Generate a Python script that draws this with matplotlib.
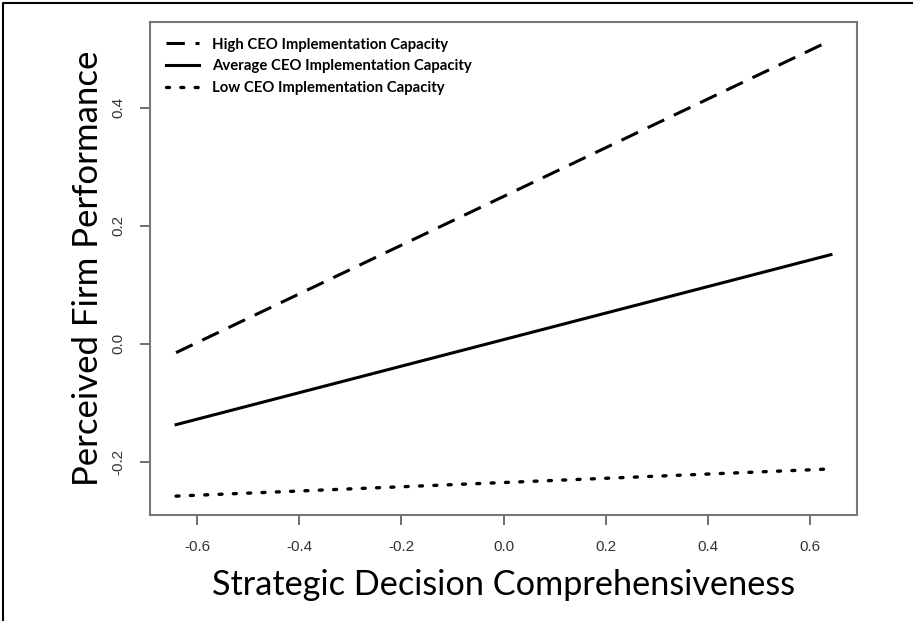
import matplotlib
matplotlib.use("Agg")
import matplotlib.pyplot as plt
from matplotlib.lines import Line2D

# simple slopes: comprehensiveness vs performance at three capacity levels
x_ends = [-0.641, 0.641]
high_cap = [-0.015, 0.514]
avg_cap = [-0.137, 0.151]
low_cap = [-0.258, -0.212]
labels = ["High CEO Implementation Capacity",
          "Average CEO Implementation Capacity",
          "Low CEO Implementation Capacity"]
xticks = [-0.6, -0.4, -0.2, 0.0, 0.2, 0.4, 0.6]
yticks = [-0.2, 0.0, 0.2, 0.4]

W, H = 913, 621
fig = plt.figure(figsize=(W / 100, H / 100), dpi=100)
ax = fig.add_axes([150 / W, (H - 515) / H, 707 / W, 493 / H])

ax.plot(x_ends, high_cap, color="black", lw=2.2, linestyle=(0, (6, 3.5)), label=labels[0])
ax.plot(x_ends, avg_cap, color="black", lw=2.2, linestyle="-", label=labels[1])
ax.plot(x_ends, low_cap, color="black", lw=2.4, linestyle=(0, (0.9, 3.4)),
        dash_capstyle="round", label=labels[2])

ax.set_xlim(-0.692, 0.692)
ax.set_ylim(-0.29, 0.545)
ax.set_xticks(xticks)
ax.set_yticks(yticks)
ax.set_xticklabels(["-0.6", "-0.4", "-0.2", "0.0", "0.2", "0.4", "0.6"])
ax.set_yticklabels(["-0.2", "0.0", "0.2", "0.4"], rotation=90, va="center")
ax.tick_params(colors="#555555", length=7, width=1.2, labelcolor="#333333",
               labelsize=11, pad=11)
for lab in ax.get_xticklabels() + ax.get_yticklabels():
    lab.set_family("Liberation Sans")
for s in ax.spines.values():
    s.set_color("#777777")
    s.set_linewidth(1.5)

ax.set_xlabel("Strategic Decision Comprehensiveness", family="Lato", fontsize=24.7, labelpad=11)
ax.set_ylabel("Perceived Firm Performance", family="Lato", fontsize=25, labelpad=5)

leg = ax.legend(loc="upper left", frameon=False, handlelength=2.25, handletextpad=0.85,
                labelspacing=0.52, borderaxespad=0.65,
                prop={"family": "Lato", "weight": "bold", "size": 10.7})

# outer border (left and top only)
fig.add_artist(Line2D([3 / W, 3 / W, 1], [0, 1 - 3 / H, 1 - 3 / H],
                      transform=fig.transFigure, color="black", lw=1.5))

fig.savefig("out.png", dpi=100)
